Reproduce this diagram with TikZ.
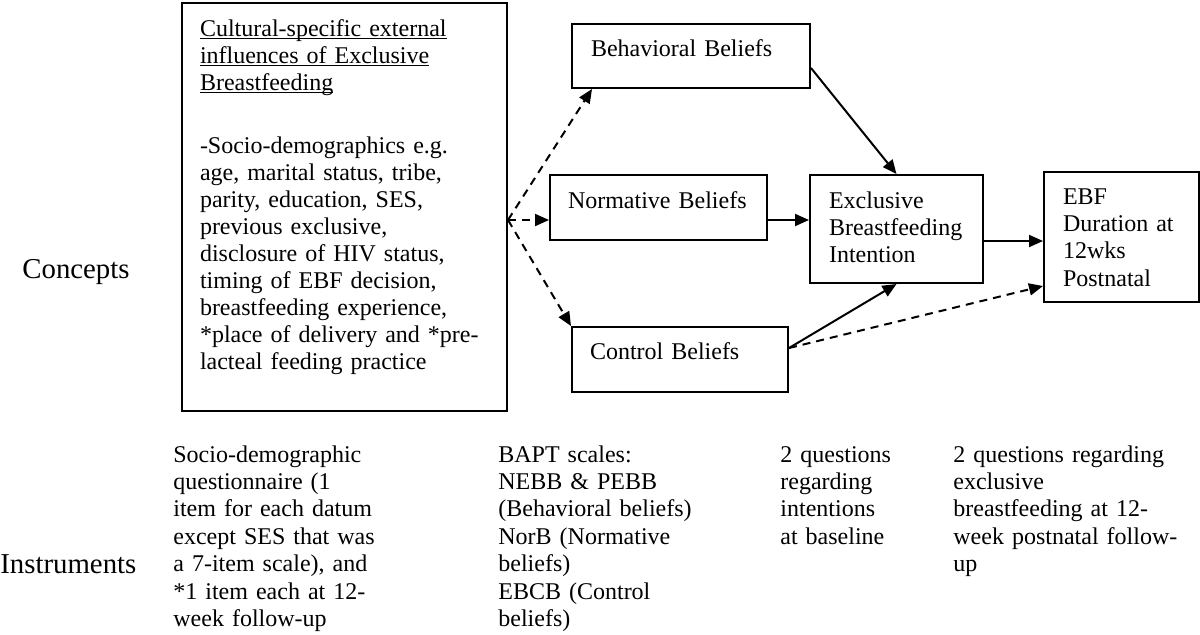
\documentclass[tikz,border=0pt]{standalone}
\usepackage{fontspec}
\setmainfont{Liberation Serif}
\usepackage{tikz}
\usetikzlibrary{arrows.meta}

\newcommand{\titleline}[1]{\underline{\smash{#1}}}

\tikzset{
  concept/.style={draw, line width=1pt, anchor=north west, align=left, inner ysep=0pt},
  note/.style={anchor=base west, inner sep=0pt, align=left, text width=#1},
  rowlabel/.style={note=#1, font=\fontsize{14.4}{16}\selectfont},
  arr/.style={line width=1pt, -{Triangle[length=7pt,width=6pt]}},
  darr/.style={arr, dash pattern=on 4pt off 3pt}
}

\begin{document}
\begin{tikzpicture}[x=0.5pt, y=-0.5pt, every node/.style={font=\fontsize{12}{13.7}\selectfont}]
\useasboundingbox (0,0) rectangle (1200,634);

\node[concept, inner xsep=9pt, text width=144.5pt, text height=16.5pt, text depth=187.5pt,
      font=\fontsize{12}{13.5}\selectfont] (ext) at (181,2)
  {\titleline{Cultural-specific external}\\
   \titleline{influences of Exclusive}\\
   \titleline{Breastfeeding}\\[18pt]
   -Socio-demographics e.g.\\
   age, marital status, tribe,\\
   parity, education, SES,\\
   previous exclusive,\\
   disclosure of HIV status,\\
   timing of EBF decision,\\
   breastfeeding experience,\\
   {*}place of delivery and *pre-\\
   lacteal feeding practice};

\node[concept, inner xsep=9.5pt, text width=100pt, text height=16pt, text depth=16pt] (behav) at (571,23)
  {Behavioral Beliefs};
\node[concept, inner xsep=9pt, text width=90.5pt, text height=16.5pt, text depth=16pt] (norm) at (549,174)
  {Normative Beliefs};
\node[concept, inner xsep=9pt, text width=90pt, text height=16pt, text depth=16.5pt] (ctrl) at (571,326)
  {Control Beliefs};
\node[concept, inner xsep=9.5pt, text width=67.5pt, text height=16.5pt, text depth=37.5pt] (intent) at (809,174)
  {Exclusive\\ Breastfeeding\\ Intention};
\node[concept, inner xsep=9.5pt, text width=58.5pt, text height=16pt, text depth=49pt] (ebf) at (1043,171)
  {EBF\\ Duration at\\ 12wks\\ Postnatal};

\node[rowlabel=70pt] (concepts) at (22,278) {Concepts};
\node[rowlabel=80pt] (instr) at (0,573) {Instruments};

\node[note=150pt] (sociotxt) at (173,462)
  {Socio-demographic\\ questionnaire (1\\ item for each datum\\ except SES that was\\ a 7-item scale), and\\ {*}1 item each at 12-\\ week follow-up};
\node[note=140pt] (bapttxt) at (498,462)
  {BAPT scales:\\ NEBB \& PEBB\\ (Behavioral beliefs)\\ NorB (Normative\\ beliefs)\\ EBCB (Control\\ beliefs)};
\node[note=80pt] (intenttxt) at (780,462)
  {2 questions\\ regarding\\ intentions\\ at baseline};
\node[note=123pt] (ebftxt) at (953,462)
  {2 questions regarding\\ exclusive\\ breastfeeding at 12-\\ week postnatal follow-\\ up};

\coordinate (fork) at ([yshift=-6.5pt]ext.east);
\draw[darr] (fork) -- ([xshift=10.5pt]behav.south west);
\draw[darr] (fork) -- (norm.west |- fork);
\draw[darr] (fork) -- (ctrl.north west);

\draw[arr] ([yshift=-6pt]behav.east) -- (intent.north);
\draw[arr] (norm.east |- fork) -- (intent.west |- fork);
\draw[arr] ([yshift=5.75pt]ctrl.east) -- (intent.south);
\draw[arr] ([yshift=-6pt]intent.east) -- ([yshift=-2pt]ebf.west);
\draw[darr] ([yshift=5.75pt]ctrl.east) -- ([yshift=-24.5pt]ebf.west);
\end{tikzpicture}
\end{document}
